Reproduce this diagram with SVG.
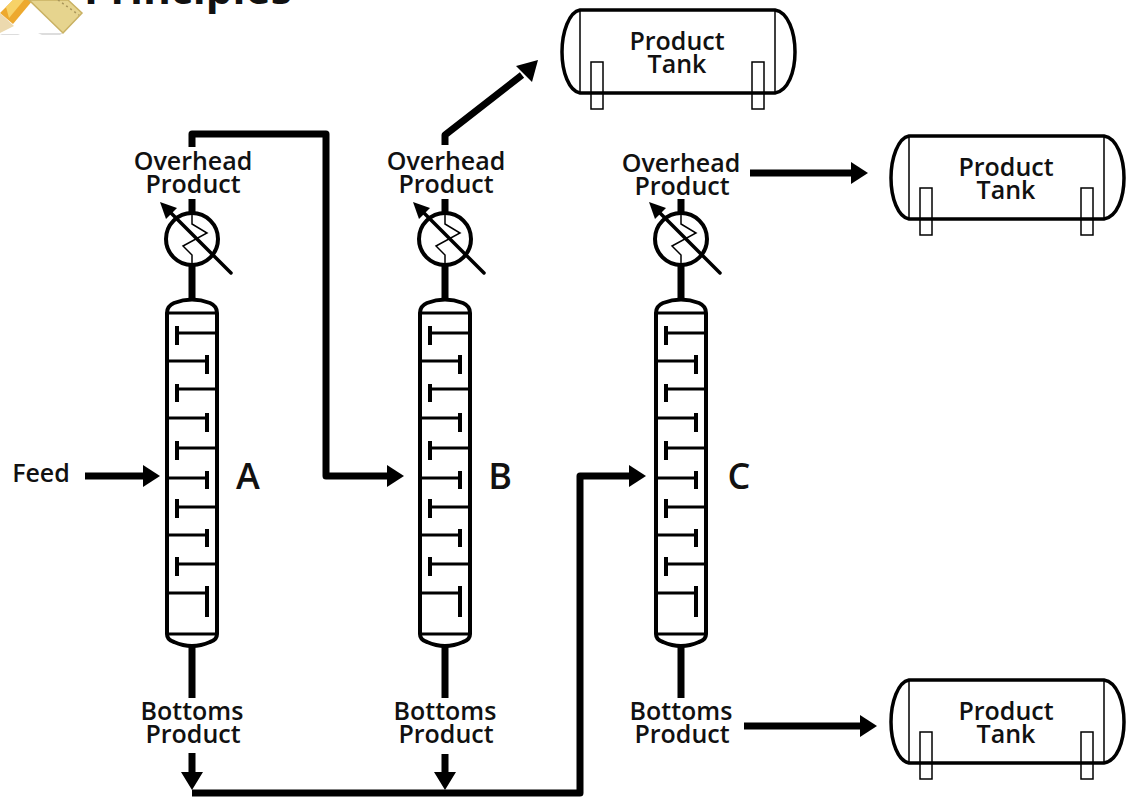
<svg xmlns="http://www.w3.org/2000/svg" xmlns:xlink="http://www.w3.org/1999/xlink" width="1126" height="798" viewBox="0 0 1126 798">
<style>
text{font-family:"Open Sans","Noto Sans","Liberation Sans",sans-serif;font-weight:600;font-size:25px;fill:#111;text-anchor:middle}
.big{font-size:36px}
.title{font-size:42.5px;font-weight:700;text-anchor:start}
.pipe{fill:none;stroke:#000;stroke-width:7;stroke-linejoin:round}
.shell{fill:#fff;stroke:#000;stroke-width:4}
.tray{fill:none;stroke:#000;stroke-width:3}
.cap{fill:none;stroke:#000;stroke-width:4}
.thin{fill:none;stroke:#000;stroke-width:1.5}
.leg{fill:none;stroke:#000;stroke-width:1.5}
.tk{fill:#fff;stroke:#000;stroke-width:3.5}
</style>
<defs>
<g id="column">
<path class="shell" d="M167 313Q167 306 174 303Q192 296 210 303Q217 306 217 313V634Q217 640 210 642Q192 650 174 642Q167 640 167 634Z"/>
<path class="tray" d="M167 313H217M167 634H217M177 333H217M167 361H207M177 389H217M167 418H207M177 448H217M167 478H207M177 507H217M167 535H207M177 564H217M167 593H207"/>
<path class="cap" d="M177 326V345M207 355V374M177 384V402M207 413V432M177 441V460M207 471V489M177 499V518M207 529V547M177 557V576M207 586V617"/>
</g>
<g id="condenser">
<circle cx="192" cy="239" r="26" fill="#fff" stroke="#000" stroke-width="4"/>
<path class="thin" d="M192 213V224L207 233L183 246L192 255V265"/>
<path fill="none" stroke="#000" stroke-width="3.5" stroke-linecap="round" d="M231 273L167 209"/>
<path d="M160 202L177 208L166 219Z"/>
</g>
<g id="tank">
<path class="tk" d="M18 0H213C226 2 233 22 233 42C233 62 226 81 213 83H18C7 81 0 62 0 42C0 22 7 2 18 0Z"/>
<path class="thin" d="M18 0V83M213 0V83"/>
<rect class="leg" x="29" y="52" width="12" height="47"/>
<rect class="leg" x="190" y="52" width="12" height="47"/>
</g>
</defs>
<g id="header">
<g id="icon">
<path d="M0 34H20L18 35H2ZM38 33H63L60 35H42Z" fill="#ddd"/>
<path d="M0 13L13 0H33L13 24Z" fill="#eda92e"/>
<path d="M6 7L13 0H24L9 18Z" fill="#f7d268"/>
<path d="M0 13L14 26L0 33Z" fill="#ecd9ae"/>
<path d="M29 0H68L82 13L63 33Z" fill="#e6d48e" stroke="#c9b163" stroke-width="1.5"/>
<path d="M58 0L79 15" fill="none" stroke="#a8955a" stroke-width="1.5" stroke-dasharray="2 3"/>
</g>
<text class="title" x="84" y="4">Principles</text>
</g>
<g id="connectors">
<path class="pipe" d="M192 147V134H326V476H388"/>
<path d="M387 465L404 476L387 487Z"/>
<path class="pipe" d="M85 476H144"/>
<path d="M143 465L160 476L143 487Z"/>
<path class="pipe" d="M445 145V135L522 75"/>
<path d="M538 60L516 66L532 82Z"/>
<path class="pipe" d="M750 173H852"/>
<path d="M851 162L868 173L851 184Z"/>
<path class="pipe" d="M744 726H861"/>
<path d="M860 715L877 726L860 737Z"/>
<path class="pipe" d="M192 753V775M445 754V775"/>
<path d="M181 772H203L192 790ZM434 772H456L445 790Z"/>
<path class="pipe" d="M192 793H580V476H630"/>
<path d="M629 465L646 476L629 487Z"/>
<path class="pipe" d="M192 199V212M192 266V298M192 647V698M445 199V212M445 266V298M445 647V698M681 199V212M681 266V298M681 647V698"/>
</g>
<g id="column-a"><use xlink:href="#column" href="#column"/><use xlink:href="#condenser" href="#condenser"/><text class="big" x="248" y="489">A</text></g>
<g id="column-b"><use xlink:href="#column" href="#column" x="253"/><use xlink:href="#condenser" href="#condenser" x="253"/><text class="big" x="500" y="489">B</text></g>
<g id="column-c"><use xlink:href="#column" href="#column" x="489"/><use xlink:href="#condenser" href="#condenser" x="489"/><text class="big" x="739" y="489">C</text></g>
<g id="labels">
<text x="193" y="170">Overhead</text><text x="193" y="193">Product</text>
<text x="446" y="170">Overhead</text><text x="446" y="193">Product</text>
<text x="681" y="172">Overhead</text><text x="682" y="195">Product</text>
<text x="192" y="720">Bottoms</text><text x="193" y="743">Product</text>
<text x="445" y="720">Bottoms</text><text x="446" y="743">Product</text>
<text x="681" y="720">Bottoms</text><text x="682" y="743">Product</text>
<text x="41" y="482">Feed</text>
</g>
<g id="tank-1"><use xlink:href="#tank" href="#tank" x="562" y="10"/><text x="677" y="50">Product</text><text x="677" y="73">Tank</text></g>
<g id="tank-2"><use xlink:href="#tank" href="#tank" x="891" y="136"/><text x="1006" y="176">Product</text><text x="1006" y="199">Tank</text></g>
<g id="tank-3"><use xlink:href="#tank" href="#tank" x="891" y="680"/><text x="1006" y="720">Product</text><text x="1006" y="743">Tank</text></g>
</svg>
